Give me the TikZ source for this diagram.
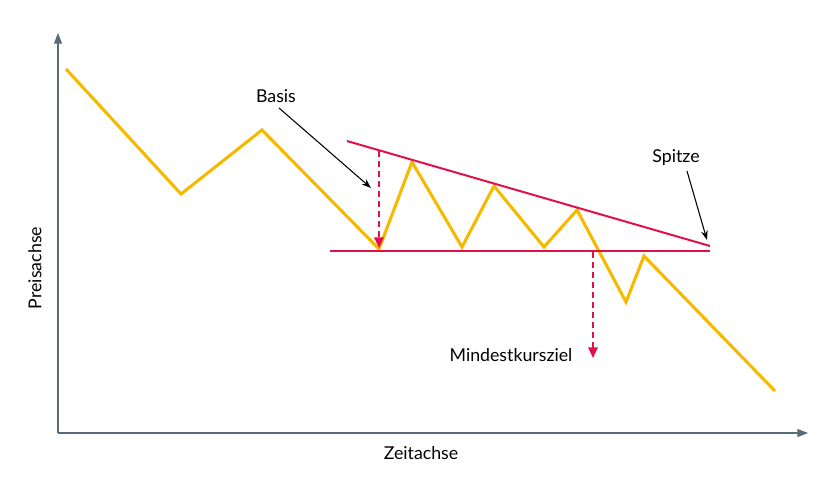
\documentclass[tikz,border=0pt]{standalone}
\usepackage{fontspec}
\setmainfont{Lato}
\usetikzlibrary{arrows.meta}
\definecolor{gold}{HTML}{F7B900}
\definecolor{crim}{HTML}{E2104A}
\definecolor{axisgray}{HTML}{5A6B78}
\tikzset{
  axisline/.style={draw=axisgray, line width=1.1pt, -{Triangle[length=8pt,width=6pt]}},
  price/.style={draw=gold, line width=2.3pt, line join=miter},
  trend/.style={draw=crim, line width=1.5pt},
  target/.style={draw=crim, line width=1.5pt, dash pattern=on 4.5pt off 3pt, -{Triangle[length=8pt,width=7pt]}},
  pointer/.style={draw=black, line width=0.8pt, -{Stealth[length=7pt,width=5pt]}},
  lbl/.style={font=\fontsize{13.3}{15}\selectfont, inner sep=0pt}
}
\begin{document}
\begin{tikzpicture}[x=0.75pt,y=-0.75pt]
\useasboundingbox (0,0) rectangle (840,479);
% axes
\coordinate (o) at (58,433);
\coordinate (ytop) at (58,33);
\coordinate (xend) at (808,433);
\draw[axisline] (o) -- (ytop);
\draw[axisline] (o) -- (xend);
\node[lbl, rotate=90] (ylab) at (35,268) {Preisachse};
\node[lbl] (xlab) at (421,453) {Zeitachse};
% price path
\coordinate (p1) at (66,69);
\coordinate (p2) at (181,194);
\coordinate (p3) at (262,130);
\coordinate (p4) at (379,249);
\coordinate (p5) at (412,162);
\coordinate (p6) at (462,247);
\coordinate (p7) at (494,186);
\coordinate (p8) at (544,247);
\coordinate (p9) at (577,210);
\coordinate (p10) at (626,302);
\coordinate (p11) at (644,256);
\coordinate (p12) at (775,391);
\draw[price] (p1)--(p2)--(p3)--(p4)--(p5)--(p6)--(p7)--(p8)--(p9)--(p10)--(p11)--(p12);
% trend lines
\coordinate (u1) at (347,141);
\coordinate (u2) at (710,246);
\coordinate (b1) at (330,251);
\coordinate (b2) at (710,251);
\draw[trend] (u1) -- (u2);
\draw[trend] (b1) -- (b2);
% dashed targets
\coordinate (d1s) at (379,151);
\coordinate (d1e) at (379,248);
\draw[target] (d1s) -- (d1e);
\coordinate (d2s) at (593,252);
\coordinate (d2e) at (593,358);
\draw[target] (d2s) -- (d2e);
% labels and pointers
\node[lbl] (basis) at (276,96) {Basis};
\coordinate (bs) at (279,108);
\coordinate (be) at (371,188);
\draw[pointer] (bs) -- (be);
\node[lbl] (spitze) at (676,158) {Spitze};
\coordinate (ss) at (687,171);
\coordinate (se) at (707,240);
\draw[pointer] (ss) -- (se);
\node[lbl] (mkz) at (511,355) {Mindestkursziel};
\end{tikzpicture}
\end{document}
